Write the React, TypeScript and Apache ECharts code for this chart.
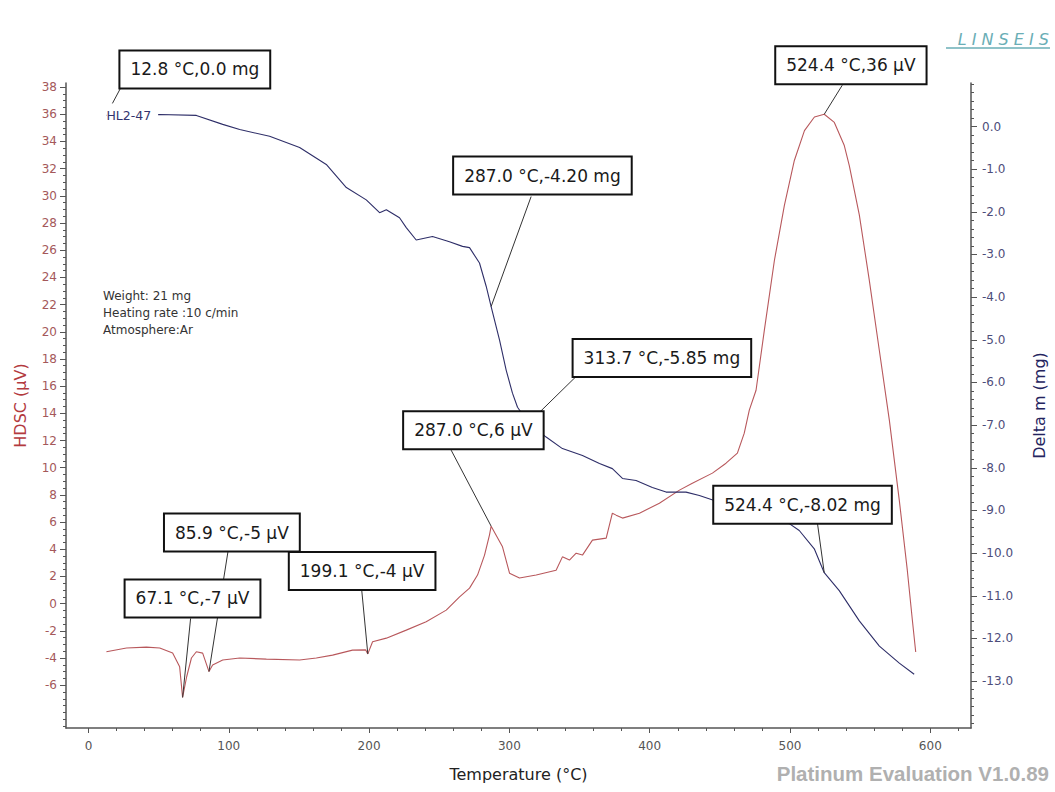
import React, { useEffect, useRef } from "react";
import * as echarts from "echarts";

// ---- data ----
const dscCurve: [number, number][] = [
  [12.8, -3.54], [27.1, -3.27], [41.3, -3.2], [50.8, -3.27], [60.0, -3.64], [65.0, -4.65],
  [67.1, -6.9], [70.0, -5.38], [73.4, -4.0], [76.9, -3.54], [81.4, -3.64], [85.9, -5.0],
  [88.5, -4.52], [95.7, -4.15], [107.8, -4.0], [126.8, -4.08], [150.5, -4.15], [162.4, -4.0],
  [174.0, -3.79], [188.2, -3.42], [197.5, -3.4], [199.1, -3.7], [202.5, -2.81], [212.3, -2.54],
  [226.5, -1.95], [240.7, -1.34], [255.0, -0.48], [264.5, 0.5], [271.6, 1.14], [277.3, 2.1],
  [282.3, 3.57], [285.8, 5.04], [287.0, 5.7], [295.1, 4.18], [300.1, 2.24], [307.2, 1.88],
  [319.1, 2.1], [333.3, 2.46], [337.8, 3.44], [342.8, 3.2], [347.6, 3.71], [352.1, 3.57],
  [359.2, 4.67], [369.0, 4.82], [373.4, 6.65], [376.1, 6.51], [380.6, 6.29], [392.7, 6.65],
  [406.9, 7.39], [421.2, 8.35], [430.4, 8.86], [444.7, 9.6], [454.4, 10.33], [462.5, 11.07],
  [467.4, 12.54], [471.0, 14.23], [475.8, 15.7], [481.7, 20.1], [488.9, 25.26], [496.0, 29.3],
  [503.1, 32.6], [510.3, 34.8], [517.4, 35.8], [524.4, 36.0], [531.6, 35.4], [538.7, 33.7],
  [542.3, 32.2], [549.4, 28.6], [556.5, 23.8], [563.7, 18.6], [570.8, 13.5], [577.9, 7.6],
  [583.6, 2.46], [587.2, -1.2], [589.6, -3.56],
];

const massCurve: [number, number][] = [
  [12.8, 0.26], [50.8, 0.28], [76.9, 0.26], [95.7, 0.05], [107.8, -0.07], [129.1, -0.23],
  [150.5, -0.49], [169.5, -0.89], [183.8, -1.43], [198.0, -1.72], [207.5, -2.02], [212.3, -1.95],
  [221.7, -2.14], [226.5, -2.37], [233.6, -2.66], [245.2, -2.58], [257.3, -2.7], [266.6, -2.81],
  [271.6, -2.84], [278.7, -3.2], [283.5, -3.75], [287.0, -4.22], [293.0, -5.01], [297.7, -5.71],
  [302.2, -6.25], [305.8, -6.58], [313.7, -6.95], [326.2, -7.28], [337.8, -7.55], [352.1, -7.71],
  [364.2, -7.9], [373.4, -8.02], [380.6, -8.25], [390.3, -8.3], [401.9, -8.46], [411.7, -8.57],
  [425.9, -8.57], [435.4, -8.65], [449.7, -8.81], [461.5, -8.84], [473.2, -8.93], [487.4, -9.19],
  [499.5, -9.31], [506.6, -9.47], [517.3, -9.9], [524.4, -10.46], [535.1, -10.88], [549.4, -11.59],
  [563.7, -12.18], [577.9, -12.58], [588.5, -12.84],
];

const xTicks = [0, 100, 200, 300, 400, 500, 600];
const xMinorTicks = [
  20, 40, 60, 80, 120, 140, 160, 180, 220, 240, 260, 280, 320, 340, 360, 380,
  420, 440, 460, 480, 520, 540, 560, 580, 620,
];
const dscTicks = [-6, -4, -2, 0, 2, 4, 6, 8, 10, 12, 14, 16, 18, 20, 22, 24, 26, 28, 30, 32, 34, 36, 38];
const dscMinorTicks = [
  -9, -8.5, -8, -7.5, -7, -6.5, -5.5, -5, -4.5, -3.5, -3, -2.5, -1.5, -1, -0.5, 0.5, 1, 1.5,
  2.5, 3, 3.5, 4.5, 5, 5.5, 6.5, 7, 7.5, 8.5, 9, 9.5, 10.5, 11, 11.5, 12.5, 13, 13.5, 14.5, 15,
  15.5, 16.5, 17, 17.5, 18.5, 19, 19.5, 20.5, 21, 21.5, 22.5, 23, 23.5, 24.5, 25, 25.5, 26.5, 27,
  27.5, 28.5, 29, 29.5, 30.5, 31, 31.5, 32.5, 33, 33.5, 34.5, 35, 35.5, 36.5, 37, 37.5,
];
const massTicks = [0, -1, -2, -3, -4, -5, -6, -7, -8, -9, -10, -11, -12, -13];
const massMinorTicks = [
  1.0, 0.8, 0.6, 0.4, 0.2, -0.2, -0.4, -0.6, -0.8, -1.2, -1.4, -1.6, -1.8, -2.2, -2.4, -2.6, -2.8,
  -3.2, -3.4, -3.6, -3.8, -4.2, -4.4, -4.6, -4.8, -5.2, -5.4, -5.6, -5.8, -6.2, -6.4, -6.6, -6.8,
  -7.2, -7.4, -7.6, -7.8, -8.2, -8.4, -8.6, -8.8, -9.2, -9.4, -9.6, -9.8, -10.2, -10.4, -10.6,
  -10.8, -11.2, -11.4, -11.6, -11.8, -12.2, -12.4, -12.6, -12.8, -13.2, -13.4, -13.6, -13.8, -14.0,
];

// axis ranges
const X_MIN = -16;
const X_MAX = 629;
const DSC_MIN = -9.15;
const DSC_MAX = 38.3;
const MASS_MIN = -14.1;
const MASS_MAX = 1.02;

// annotations: anchor in data units; box / leader offsets in pixels relative to anchor
const annotations = [
  { text: "12.8 °C,0.0 mg", temp: 12.8, value: 0.26, axis: 1, box: [14, -64], from: [14, -27], to: [6, -12] },
  { text: "524.4 °C,36 µV", temp: 524.4, value: 36.0, axis: 0, box: [-48, -67], from: [18, -29], to: [0, 0] },
  { text: "287.0 °C,-4.20 mg", temp: 287.0, value: -4.22, axis: 1, box: [-37, -149], from: [40, -110], to: [0, 0] },
  { text: "313.7 °C,-5.85 mg", temp: 313.7, value: -6.95, axis: 1, box: [45, -83], from: [48, -47], to: [0, 0] },
  { text: "287.0 °C,6 µV", temp: 287.0, value: 5.7, axis: 0, box: [-87, -114], from: [-40, -76], to: [0, 0] },
  { text: "85.9 °C,-5 µV", temp: 85.9, value: -5.0, axis: 0, box: [-44, -157], from: [19, -120], to: [0, 0] },
  { text: "67.1 °C,-7 µV", temp: 67.1, value: -6.9, axis: 0, box: [-57, -117], from: [8, -79], to: [0, 0] },
  { text: "199.1 °C,-4 µV", temp: 199.1, value: -3.7, axis: 0, box: [-78, -101], from: [-6, -63], to: [0, 0] },
  { text: "524.4 °C,-8.02 mg", temp: 524.4, value: -10.46, axis: 1, box: [-110, -86], from: [-7, -51], to: [0, 0] },
];

const infoLines = ["Weight: 21 mg", "Heating rate :10 c/min", "Atmosphere:Ar"];
const sampleName = "HL2-47";

const FONT = "DejaVu Sans";
const AXIS_COLOR = "#555";
const DSC_COLOR = "#b8585c";
const MASS_COLOR = "#2e2e68";

function minorAxis(extra: any) {
  return {
    type: "value",
    axisLine: { show: false, onZero: false },
    axisLabel: { show: false },
    splitLine: { show: false },
    ...extra,
  };
}

export default function App() {
  const ref = useRef<HTMLDivElement>(null);

  useEffect(() => {
    const chart = echarts.init(ref.current!, undefined, { renderer: "svg" });
    const option: any = {
      animation: false,
      backgroundColor: "#ffffff",
      grid: { left: 66, right: 83, top: 83, bottom: 64, containLabel: false },
      xAxis: [
        {
          type: "value",
          min: X_MIN,
          max: X_MAX,
          position: "bottom",
          axisLine: { show: true, onZero: false, lineStyle: { color: AXIS_COLOR, width: 1.5 } },
          axisTick: { show: true, customValues: xTicks, length: 5, lineStyle: { color: AXIS_COLOR } },
          axisLabel: { customValues: xTicks, color: "#555", fontSize: 12, fontFamily: FONT, margin: 12 },
          splitLine: { show: false },
          name: "Temperature (°C)",
          nameLocation: "middle",
          nameGap: 38,
          nameTextStyle: { color: "#222", fontSize: 16, fontFamily: FONT },
        },
        minorAxis({
          min: X_MIN,
          max: X_MAX,
          position: "bottom",
          axisTick: { show: true, customValues: xMinorTicks, length: 3, lineStyle: { color: AXIS_COLOR } },
        }),
      ],
      yAxis: [
        {
          type: "value",
          min: DSC_MIN,
          max: DSC_MAX,
          position: "left",
          axisLine: { show: true, onZero: false, lineStyle: { color: AXIS_COLOR, width: 1.5 } },
          axisTick: { show: true, customValues: dscTicks, length: 6, lineStyle: { color: AXIS_COLOR } },
          axisLabel: { customValues: dscTicks, color: "#a4585a", fontSize: 12, fontFamily: FONT, margin: 9 },
          splitLine: { show: false },
          name: "HDSC (µV)",
          nameLocation: "middle",
          nameGap: 38,
          nameTextStyle: { color: "#b33a3e", fontSize: 16, fontFamily: FONT },
        },
        {
          type: "value",
          min: MASS_MIN,
          max: MASS_MAX,
          position: "right",
          axisLine: { show: true, onZero: false, lineStyle: { color: AXIS_COLOR, width: 1.5 } },
          axisTick: { show: true, customValues: massTicks, length: 6, lineStyle: { color: AXIS_COLOR } },
          axisLabel: {
            customValues: massTicks,
            color: "#4d4d7a",
            fontSize: 12,
            fontFamily: FONT,
            margin: 11,
            formatter: (v: number) => v.toFixed(1),
          },
          splitLine: { show: false },
          name: "Delta m (mg)",
          nameLocation: "middle",
          nameGap: 60,
          nameTextStyle: { color: "#24245e", fontSize: 16, fontFamily: FONT },
        },
        minorAxis({
          min: DSC_MIN,
          max: DSC_MAX,
          position: "left",
          axisTick: { show: true, customValues: dscMinorTicks, length: 3, lineStyle: { color: AXIS_COLOR } },
        }),
        minorAxis({
          min: MASS_MIN,
          max: MASS_MAX,
          position: "right",
          axisTick: { show: true, customValues: massMinorTicks, length: 3, lineStyle: { color: AXIS_COLOR } },
        }),
      ],
      series: [
        {
          name: "HDSC",
          type: "line",
          xAxisIndex: 0,
          yAxisIndex: 0,
          data: dscCurve,
          symbol: "none",
          lineStyle: { color: DSC_COLOR, width: 1.1 },
          z: 3,
        },
        {
          name: "Delta m",
          type: "line",
          xAxisIndex: 0,
          yAxisIndex: 1,
          data: massCurve,
          symbol: "none",
          lineStyle: { color: MASS_COLOR, width: 1.1 },
          z: 3,
        },
      ],
    };
    chart.setOption(option);

    const graphics: any[] = [];
    const toPx = (axis: number, t: number, v: number) =>
      chart.convertToPixel({ xAxisIndex: 0, yAxisIndex: axis }, [t, v]) as number[];

    // sample name label at curve start
    const start = toPx(1, massCurve[0][0], massCurve[0][1]);
    graphics.push({
      type: "text",
      x: start[0],
      y: start[1],
      z: 50,
      style: {
        text: sampleName,
        fill: "#34346e",
        fontSize: 12.5,
        fontFamily: FONT,
        align: "left",
        textAlign: "left",
        verticalAlign: "middle",
        textVerticalAlign: "middle",
        backgroundColor: "#ffffff",
        padding: [1, 7, 1, 0],
      },
    });

    annotations.forEach((a) => {
      const p = toPx(a.axis, a.temp, a.value);
      graphics.push({
        type: "line",
        z: 60,
        shape: {
          x1: p[0] + a.from[0],
          y1: p[1] + a.from[1],
          x2: p[0] + a.to[0],
          y2: p[1] + a.to[1],
        },
        style: { stroke: "#333", lineWidth: 1 },
      });
      graphics.push({
        type: "text",
        x: p[0] + a.box[0],
        y: p[1] + a.box[1],
        z: 70,
        style: {
          text: a.text,
          fill: "#1a1a1a",
          fontSize: 17,
          fontFamily: FONT,
          lineHeight: 20,
          align: "left",
          textAlign: "left",
          verticalAlign: "top",
          textVerticalAlign: "top",
          backgroundColor: "#ffffff",
          borderColor: "#111111",
          borderWidth: 2,
          padding: [8, 10, 8, 10],
        },
      });
    });

    graphics.push({
      type: "text",
      x: 103,
      y: 288,
      z: 40,
      style: {
        text: infoLines.join("\n"),
        fill: "#333",
        fontSize: 12,
        fontFamily: FONT,
        lineHeight: 16.7,
        align: "left",
        textAlign: "left",
        verticalAlign: "top",
        textVerticalAlign: "top",
      },
    });

    graphics.push({
      type: "text",
      x: 1049,
      y: 39,
      z: 40,
      style: {
        text: "L I N S E I S",
        fill: "#6aaeb6",
        fontSize: 16,
        fontStyle: "italic",
        fontFamily: FONT,
        align: "right",
        textAlign: "right",
        verticalAlign: "middle",
        textVerticalAlign: "middle",
      },
    });
    graphics.push({
      type: "line",
      z: 40,
      shape: { x1: 946, y1: 48, x2: 1050, y2: 48 },
      style: { stroke: "#6aaeb6", lineWidth: 1.5 },
    });

    graphics.push({
      type: "text",
      x: 1049,
      y: 773,
      z: 40,
      style: {
        text: "Platinum Evaluation V1.0.89",
        fill: "#b0b0b0",
        fontSize: 20.5,
        fontWeight: "bold",
        fontFamily: "Liberation Sans",
        align: "right",
        textAlign: "right",
        verticalAlign: "middle",
        textVerticalAlign: "middle",
      },
    });

    chart.setOption({ graphic: graphics });
    return () => chart.dispose();
  }, []);

  return (
    <div
      ref={ref}
      style={{ position: "fixed", left: 0, top: 0, width: 1055, height: 792, background: "#fff" }}
    />
  );
}
